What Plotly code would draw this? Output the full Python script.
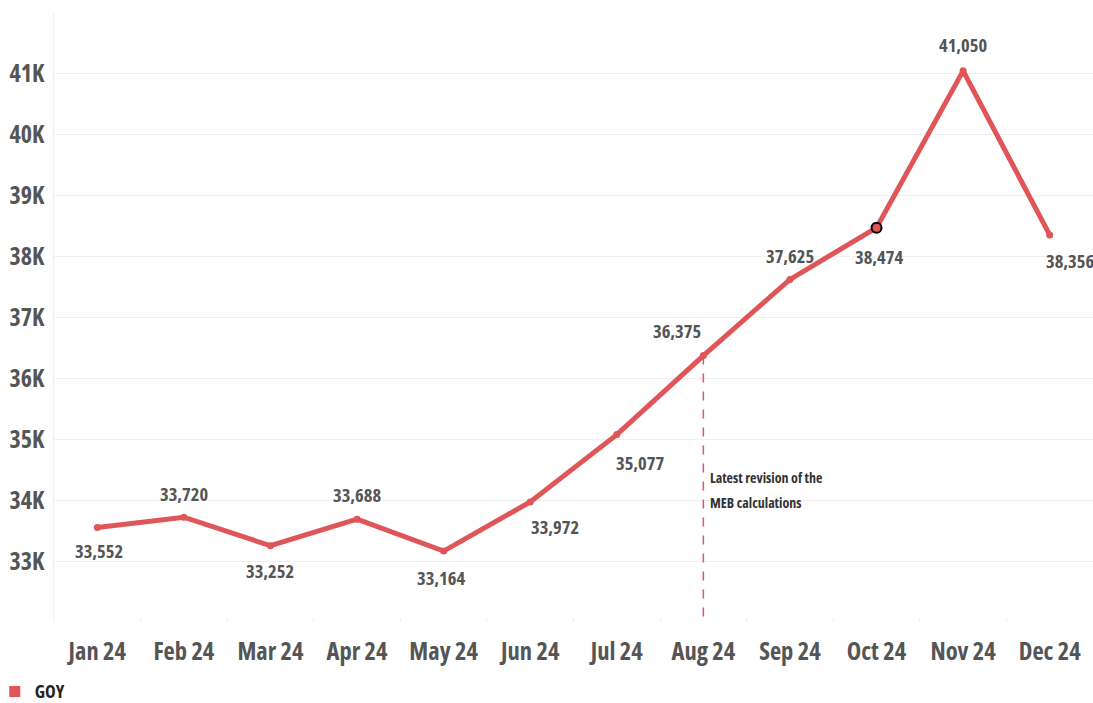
import plotly.graph_objects as go

months = ["Jan 24", "Feb 24", "Mar 24", "Apr 24", "May 24", "Jun 24",
          "Jul 24", "Aug 24", "Sep 24", "Oct 24", "Nov 24", "Dec 24"]
goy = [33552, 33720, 33252, 33688, 33164, 33972, 35077, 36375, 37625, 38474, 41050, 38356]
# label offsets (pixels) relative to each point
label_dx = [2, 0, 0, 0, -3, 25, 23, -26, 0, 2, 0, 20]
label_dy = [23, -24, 25, -25, 26, 25, 28, -25, -24, 29, -26, 26]
y_ticks = [32000, 33000, 34000, 35000, 36000, 37000, 38000, 39000, 40000, 41000, 42000]
y_ticktext = ["", "33K", "34K", "35K", "36K", "37K", "38K", "39K", "40K", "41K", ""]
highlight_month = "Oct 24"
revision_month = "Aug 24"
revision_lines = ["Latest revision of the", "MEB calculations"]
revision_line_y = [34380, 33970]

FONT = "Open Sans"
RED = "#E05558"
GREY = "#555555"


def narrow(s):
    return f'<span style="font-stretch:75%">{s}</span>' if s else s


fig = go.Figure()
fig.add_trace(go.Scatter(
    x=months, y=goy, name="GOY", mode="lines+markers", showlegend=False,
    line=dict(color=RED, width=5),
    marker=dict(color=RED, size=7),
))
# legend entry (square swatch)
fig.add_trace(go.Scatter(
    x=[None], y=[None], name=narrow("GOY"), mode="markers",
    marker=dict(color=RED, symbol="square", size=11),
))
hi = months.index(highlight_month)
fig.add_trace(go.Scatter(
    x=[months[hi]], y=[goy[hi]], mode="markers", showlegend=False,
    marker=dict(color=RED, size=10, line=dict(color="black", width=2)),
    hoverinfo="skip",
))

for m, v, dx, dy in zip(months, goy, label_dx, label_dy):
    fig.add_annotation(x=m, y=v, xref="x", yref="y", text=narrow(f"{v:,}"), showarrow=False,
                       xshift=dx, yshift=-dy, xanchor="center", yanchor="middle",
                       font=dict(family=FONT, size=18.5, color=GREY, weight="bold"))

ri = months.index(revision_month)
fig.add_shape(type="line", xref="x", yref="y", x0=ri, x1=ri, y0=goy[ri], y1=31870,
              line=dict(color="#E8506A", width=1.5, dash="dash"))
for line_text, ly in zip(revision_lines, revision_line_y):
    fig.add_annotation(x=ri, y=ly, xref="x", yref="y", text=narrow(line_text),
                       showarrow=False, xanchor="left", yanchor="middle", xshift=5,
                       font=dict(family=FONT, size=14, color="#333333", weight="bold"))

fig.update_layout(
    width=1093, height=703,
    margin=dict(l=54, r=0, t=13, b=81, autoexpand=False),
    plot_bgcolor="white", paper_bgcolor="white",
    showlegend=True,
    legend=dict(orientation="h", xref="paper", yref="container", x=-0.057, y=0.016,
                xanchor="left", yanchor="middle", bgcolor="rgba(0,0,0,0)",
                font=dict(family=FONT, size=18, color="#222222", weight="bold"),
                itemwidth=30),
    font=dict(family=FONT, color=GREY),
)
fig.update_xaxes(type="category", range=[-0.5, 11.5], showgrid=False,
                 tickvals=months, ticktext=[narrow(m) for m in months],
                 tickfont=dict(family=FONT, size=24.5, color=GREY, weight="bold"),
                 ticks="inside", tickson="boundaries", ticklen=4, tickcolor="#eeeeee",
                 ticklabelstandoff=12,
                 showline=False, zeroline=False)
fig.update_yaxes(range=[32000, 42000], tickvals=y_ticks, ticktext=[narrow(t) for t in y_ticktext],
                 showgrid=True, gridcolor="#f0f0f0", gridwidth=1,
                 tickfont=dict(family=FONT, size=24, color=GREY, weight="bold"),
                 showline=True, linecolor="#f0f0f0", zeroline=False, ticks="",
                 ticklabelstandoff=4)

# remove the default page margin so the figure fills the window exactly
fig.write_html("out.html", config={"displayModeBar": False},
               post_script="document.body.style.margin='0';document.body.style.overflow='hidden';")
